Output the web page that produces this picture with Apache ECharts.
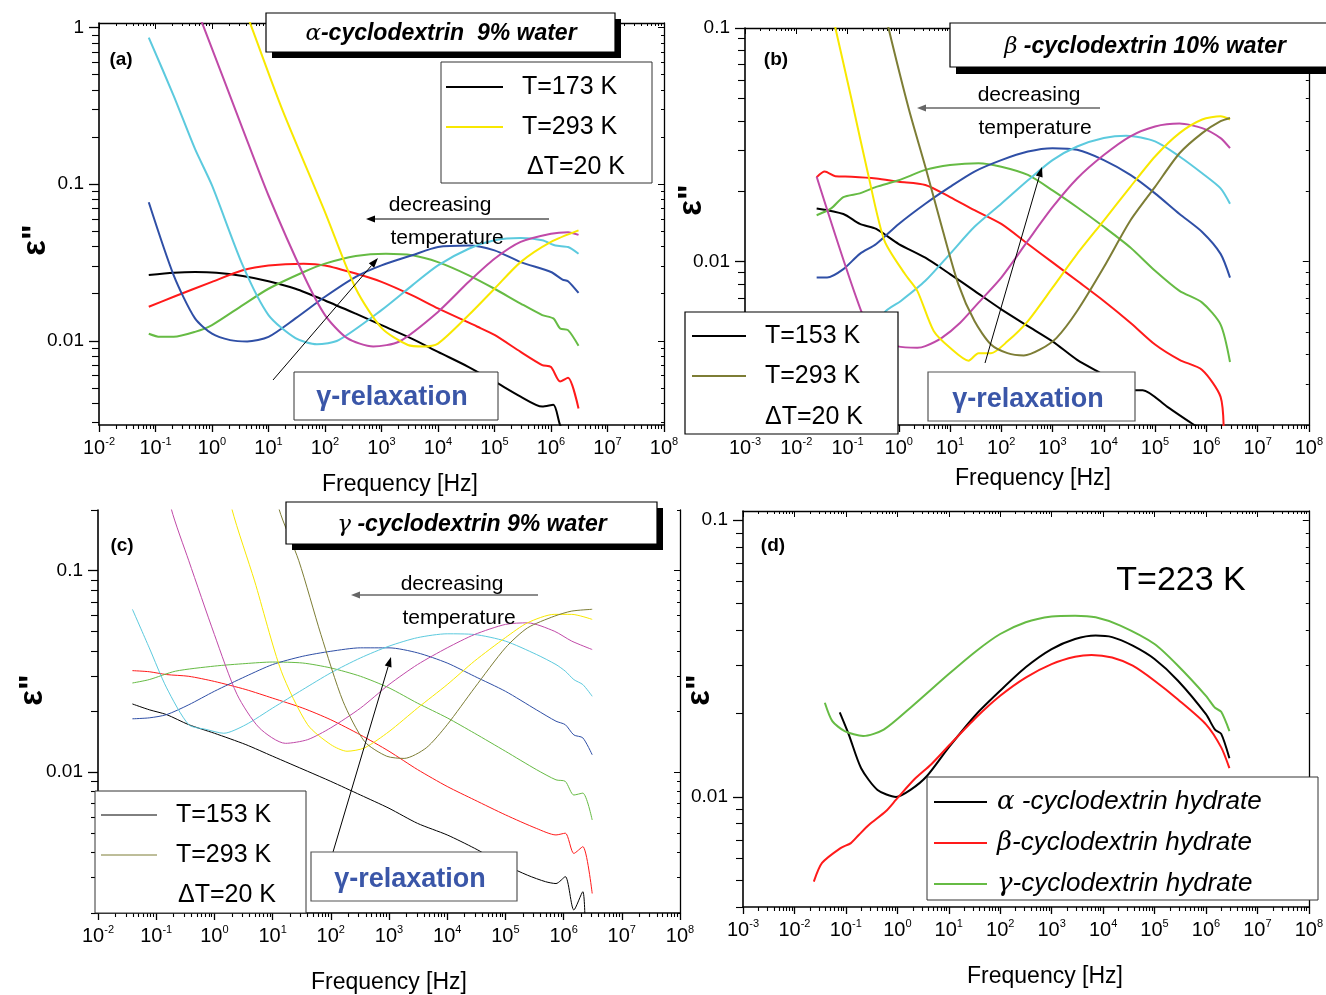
<!DOCTYPE html>
<html>
<head>
<meta charset="utf-8">
<script src="https://cdn.jsdelivr.net/npm/echarts@6/dist/echarts.min.js"></script>
<style>
html, body { margin: 0; padding: 0; background: #fff; }
#chart { width: 1326px; height: 995px; }
</style>
</head>
<body>
<div id="chart"></div>
<script>
// ---- (a) alpha-cyclodextrin 9% water, T = 173..293 K ----
const a173 = [[0.076,0.0263],[0.21,0.0272],[0.5,0.0275],[1.2,0.0272],[3.5,0.0259],[10,0.024],[30,0.0215],[100,0.0181],[350,0.0149],[1000,0.0126],[3500,0.0103],[1e4,0.0085],[3.5e4,0.0068],[1e5,0.0055],[2.9e5,0.0044],[7e5,0.0038],[1.1e6,0.0039],[1.45e6,0.0029],[2e6,0.0024]];
const a193 = [[0.076,0.0165],[0.21,0.0191],[1,0.0238],[3.5,0.0282],[10,0.0303],[42,0.0311],[100,0.0303],[350,0.0269],[1000,0.0238],[3500,0.0195],[1e4,0.0161],[5e4,0.0123],[1e5,0.0109],[2.9e5,0.0085],[7e5,0.007],[1e6,0.0068],[1.45e6,0.0055],[2e6,0.0058],[3.07e6,0.0037]];
const a213 = [[0.076,0.0111],[0.12,0.0106],[0.21,0.0106],[0.5,0.0114],[1,0.0126],[3.5,0.0169],[10,0.0215],[42,0.0275],[100,0.0311],[350,0.0348],[1200,0.036],[3500,0.0352],[1e4,0.0318],[3.5e4,0.0262],[1e5,0.0215],[2.9e5,0.0173],[7e5,0.0146],[1.1e6,0.0139],[1.45e6,0.012],[2e6,0.0117],[3.07e6,0.0093]];
const a233 = [[0.076,0.0767],[0.21,0.0262],[0.5,0.0139],[1,0.0111],[2.1,0.0101],[4.2,0.0099],[10,0.0106],[30,0.0139],[100,0.0191],[350,0.0256],[1000,0.0303],[3500,0.0352],[1e4,0.0397],[3.5e4,0.0406],[1e5,0.0378],[2.9e5,0.0318],[1e6,0.0275],[1.6e6,0.0246],[2e6,0.024],[3.07e6,0.0202]];
const a253 = [[0.076,0.863],[0.21,0.367],[0.5,0.168],[1,0.0982],[3.5,0.0303],[10,0.0146],[30,0.0104],[72,0.0095],[174,0.0101],[1000,0.0157],[3500,0.0226],[1e4,0.0303],[3.5e4,0.0387],[1e5,0.0438],[2.9e5,0.0453],[7e5,0.0438],[1.2e6,0.0406],[2e6,0.0397],[3.07e6,0.036]];
const a273 = [[0.4,1.66],[0.72,1.0],[3.5,0.225],[10,0.0847],[42,0.0262],[100,0.0146],[247,0.0104],[714,0.0092],[2065,0.0099],[1e4,0.0153],[3.5e4,0.0238],[1e5,0.0334],[2.9e5,0.0428],[1e6,0.0483],[2e6,0.0494],[3.07e6,0.0475]];
const a293 = [[2.97,1.67],[5.06,1.0],[17.4,0.302],[100,0.0664],[352,0.0215],[1020,0.012],[2940,0.0094],[5460,0.0092],[1e4,0.0096],[3.5e4,0.0146],[1e5,0.0215],[2.9e5,0.0318],[1e6,0.0428],[3.07e6,0.0507]];

// ---- (b) beta-cyclodextrin 10% water, T = 153..293 K ----
const b153 = [[0.025,0.0169],[0.083,0.016],[0.174,0.0145],[0.363,0.0138],[1,0.0119],[3.3,0.0104],[10,0.00885],[30,0.0075],[100,0.00625],[331,0.0053],[1000,0.00456],[3020,0.0038],[1e4,0.00328],[3.3e4,0.00282],[5.75e4,0.00282],[1.74e5,0.00239],[5.25e5,0.00203],[9.1e5,0.0019]];
const b173 = [[0.025,0.023],[0.036,0.0243],[0.058,0.0232],[0.12,0.0231],[0.363,0.0227],[1,0.022],[3.3,0.0213],[10,0.0189],[30,0.0166],[100,0.0145],[331,0.0119],[1000,0.00993],[3020,0.00828],[1e4,0.00679],[3.3e4,0.00548],[1e5,0.00442],[3e5,0.0038],[8.3e5,0.00344],[1.9e6,0.00264],[2.2e6,0.00178]];
const b193 = [[0.025,0.0158],[0.048,0.0169],[0.083,0.0189],[0.174,0.0196],[0.363,0.0209],[1,0.0223],[3.3,0.0247],[10,0.0259],[36,0.0264],[100,0.0255],[331,0.0235],[1000,0.0202],[3020,0.0171],[1e4,0.0141],[3.3e4,0.0115],[1e5,0.00914],[3e5,0.0075],[8.3e5,0.00668],[1.9e6,0.00538],[2.9e6,0.00372]];
const b213 = [[0.025,0.00855],[0.04,0.00855],[0.083,0.00929],[0.174,0.0108],[0.363,0.0119],[1,0.0145],[3.3,0.0177],[10,0.0209],[30,0.0243],[100,0.0272],[331,0.0296],[1000,0.0306],[3020,0.0301],[1e4,0.0272],[3.3e4,0.0235],[1e5,0.0196],[3e5,0.016],[8.3e5,0.0134],[1.9e6,0.0108],[2.9e6,0.00855]];
const b233 = [[0.025,0.00355],[0.1,0.00316],[0.25,0.00398],[0.525,0.00605],[1.1,0.00679],[3.3,0.00828],[10,0.0108],[30,0.0141],[100,0.0177],[331,0.0223],[1000,0.0272],[3020,0.0311],[1e4,0.0338],[2.75e4,0.0346],[1e5,0.0327],[3e5,0.0282],[8.3e5,0.0239],[1.9e6,0.0206],[2.9e6,0.0177]];
const b253 = [[0.025,0.0231],[0.19,0.00605],[0.4,0.00468],[0.91,0.00435],[2.3,0.00428],[3.3,0.00435],[6.9,0.00472],[15.8,0.00548],[36,0.00668],[100,0.00855],[331,0.0123],[1000,0.0171],[3020,0.0227],[1e4,0.0286],[3.3e4,0.0344],[1e5,0.0379],[3e5,0.039],[8.3e5,0.0373],[1.9e6,0.0338],[2.9e6,0.0306]];
const b273 = [[0.04,0.141],[0.058,0.1],[0.12,0.0494],[0.25,0.0239],[0.525,0.0123],[1.32,0.00885],[2.3,0.0075],[4.8,0.00505],[10,0.00428],[23,0.00377],[36,0.00406],[63,0.00406],[132,0.00456],[331,0.00557],[1000,0.00774],[3020,0.0108],[1e4,0.015],[3.3e4,0.0209],[1e5,0.0282],[3e5,0.0355],[8.3e5,0.0406],[1.9e6,0.0419],[2.9e6,0.0406]];
const b293 = [[0.447,0.141],[0.63,0.1],[1.58,0.0448],[3.3,0.0255],[6.9,0.0141],[14.5,0.00802],[30,0.00557],[63,0.00442],[132,0.00406],[275,0.00397],[575,0.00421],[1200,0.00472],[3020,0.00615],[1e4,0.00946],[3.3e4,0.015],[1e5,0.0209],[3e5,0.0291],[8.3e5,0.0355],[1.9e6,0.0399],[2.9e6,0.0412]];

// ---- (c) gamma-cyclodextrin 9% water, T = 153..293 K ----
const c153 = [[0.039,0.0218],[0.076,0.0204],[0.151,0.0193],[0.363,0.0172],[1,0.0156],[3.47,0.0137],[10,0.012],[40,0.0101],[100,0.009],[324,0.0077],[1000,0.00662],[3090,0.00557],[1e4,0.00488],[2.95e4,0.00419],[1e5,0.00346],[2.4e5,0.00308],[4.9e5,0.00286],[7.4e5,0.0028],[1.07e6,0.00303],[1.5e6,0.00207],[2.14e6,0.00255],[2.34e6,0.00178]];
const c173 = [[0.039,0.0319],[0.076,0.0315],[0.151,0.0305],[0.363,0.0299],[1,0.0282],[3.47,0.0257],[10,0.0233],[33,0.0208],[100,0.0182],[324,0.0153],[1000,0.0127],[3090,0.0103],[1e4,0.00849],[2.95e4,0.00728],[1e5,0.00614],[3.4e5,0.00526],[7.4e5,0.00488],[1.07e6,0.00498],[1.5e6,0.00395],[2.14e6,0.00427],[3.1e6,0.0025]];
const c193 = [[0.039,0.0277],[0.076,0.0288],[0.214,0.0317],[1,0.0336],[3.47,0.0346],[10,0.0352],[33,0.0348],[100,0.0329],[324,0.0299],[1000,0.0262],[3090,0.022],[1e4,0.0186],[2.95e4,0.0156],[1e5,0.0127],[3.4e5,0.0103],[7.4e5,0.00916],[1.07e6,0.009],[1.5e6,0.0077],[2.14e6,0.00787],[3.1e6,0.00579]];
const c213 = [[0.039,0.0184],[0.076,0.0186],[0.151,0.0193],[0.363,0.0216],[1,0.0252],[3.47,0.0299],[10,0.0342],[33,0.0376],[100,0.0398],[324,0.0414],[1000,0.0414],[3090,0.0391],[1e4,0.0348],[2.95e4,0.0299],[1e5,0.0252],[3.4e5,0.0204],[7.4e5,0.0179],[1.07e6,0.0172],[1.5e6,0.0153],[2.14e6,0.0148],[3.1e6,0.0122]];
const c233 = [[0.039,0.0643],[0.076,0.0414],[0.151,0.0262],[0.363,0.0172],[0.72,0.0163],[1.45,0.0156],[3.47,0.0172],[10,0.0208],[33,0.0257],[100,0.0311],[324,0.0369],[1000,0.0422],[3090,0.0465],[1e4,0.0486],[2.95e4,0.0482],[1e5,0.0447],[3.4e5,0.0384],[7.4e5,0.0342],[1.07e6,0.0317],[1.5e6,0.0288],[2.14e6,0.0272],[3.1e6,0.0238]];
const c253 = [[0.126,0.355],[0.182,0.202],[0.363,0.112],[1,0.0482],[2.45,0.0243],[5.9,0.0166],[16.6,0.0139],[40,0.0145],[100,0.0166],[324,0.0208],[1000,0.0272],[3090,0.0342],[1e4,0.0414],[2.95e4,0.0482],[1e5,0.0541],[2.4e5,0.0551],[6.9e5,0.0501],[1.38e6,0.0447],[3.1e6,0.0406]];
const c273 = [[1.41,0.355],[2.0,0.202],[4.9,0.0889],[14.1,0.0317],[40,0.0172],[100,0.0137],[190,0.0127],[380,0.0132],[1000,0.0159],[3090,0.0208],[1e4,0.0272],[2.95e4,0.0356],[1e5,0.0465],[2.4e5,0.0551],[6.9e5,0.0607],[1.38e6,0.0607],[3.1e6,0.0573]];
const c293 = [[8.9,0.355],[12.9,0.202],[28.2,0.112],[67.6,0.0482],[162,0.0225],[380,0.0142],[912,0.012],[1820,0.0117],[4365,0.0132],[1e4,0.0172],[2.95e4,0.0262],[1e5,0.0414],[2.4e5,0.052],[6.9e5,0.0594],[1.38e6,0.063],[3.1e6,0.0643]];

// ---- (d) the three hydrates at T = 223 K ----
const dAlpha = [[0.076,0.0202],[0.114,0.0168],[0.198,0.0127],[0.413,0.0106],[0.946,0.01],[1.8,0.0106],[3.77,0.0119],[10,0.0151],[34.4,0.0199],[100,0.0242],[313,0.0294],[1000,0.0342],[2860,0.0372],[7180,0.0383],[1.5e4,0.0378],[3.77e4,0.0352],[1e5,0.0315],[2.86e5,0.0263],[1e6,0.0199],[1.5e6,0.0175],[1.98e6,0.0169],[2.86e6,0.0138]];
const dBeta = [[0.0238,0.00494],[0.0344,0.00577],[0.0787,0.00653],[0.125,0.00681],[0.18,0.0073],[0.286,0.00794],[0.597,0.00887],[0.946,0.00977],[2.17,0.0116],[4.53,0.0131],[10,0.0153],[34.4,0.0194],[100,0.0232],[313,0.027],[1000,0.0302],[2860,0.0321],[5970,0.0326],[1.5e4,0.0319],[3.77e4,0.0298],[1e5,0.0263],[2.86e5,0.0225],[1e6,0.0183],[1.98e6,0.0151],[2.86e6,0.0127]];
const dGamma = [[0.039,0.0219],[0.0545,0.0188],[0.0946,0.0173],[0.217,0.0166],[0.545,0.0175],[1.8,0.021],[10,0.0278],[34.4,0.0337],[100,0.0388],[313,0.0428],[1000,0.0449],[2860,0.0452],[7180,0.0446],[2.17e4,0.0416],[1e5,0.0357],[2.86e5,0.0298],[1e6,0.0232],[1.5e6,0.021],[1.98e6,0.0203],[2.86e6,0.0173]];

const FONT = '"Liberation Sans", Arial, sans-serif';
const C = {
    black: '#000000', red: '#ff1a1a', green: '#66bb44', blue: '#2f4fa6',
    cyan: '#5ccade', magenta: '#c04aa8', yellow: '#f8e800', olive: '#7d7d35'
};

const panels = [
    { grid: { left: 99, top: 23, width: 565, height: 402 }, xExp: [-2, 8], yRange: [0.0029, 1.07], yExp: [-3, 0], topAxis: true, lw: 2,
      series: [[a173, C.black], [a193, C.red], [a213, C.green], [a233, C.blue], [a253, C.cyan], [a273, C.magenta], [a293, C.yellow]] },
    { grid: { left: 745, top: 28, width: 567, height: 397 }, xExp: [-3, 8], yRange: [0.002, 0.1], yExp: [-3, -1], topAxis: true, lw: 2,
      series: [[b153, C.black], [b173, C.red], [b193, C.green], [b213, C.blue], [b233, C.cyan], [b253, C.magenta], [b273, C.yellow], [b293, C.olive]] },
    { grid: { left: 98, top: 510, width: 582, height: 403 }, xExp: [-2, 8], yRange: [0.002, 0.2], yExp: [-3, -1], topAxis: false, lw: 1,
      series: [[c153, C.black], [c173, C.red], [c193, C.green], [c213, C.blue], [c233, C.cyan], [c253, C.magenta], [c273, C.yellow], [c293, C.olive]] },
    { grid: { left: 743, top: 511, width: 566, height: 396 }, xExp: [-3, 8], yRange: [0.004, 0.108], yExp: [-3, -1], topAxis: true, lw: 2,
      series: [[dAlpha, C.black], [dBeta, C.red], [dGamma, C.green]] }
];

function decades(lo, hi) {
    const v = [];
    for (let e = lo; e <= hi; e++) v.push(Math.pow(10, e));
    return v;
}
function minors(lo, hi) {
    const v = [];
    for (let e = lo; e < hi; e++) {
        for (let k = 2; k <= 9; k++) v.push(+(k * Math.pow(10, e)).toPrecision(3));
    }
    return v;
}

const grids = [], xAxes = [], yAxes = [], series = [];

panels.forEach((p, gi) => {
    grids.push(Object.assign({ containLabel: false }, p.grid));
    const xMin = Math.pow(10, p.xExp[0]), xMax = Math.pow(10, p.xExp[1]);
    const xMaj = decades(p.xExp[0], p.xExp[1]), xMinor = minors(p.xExp[0], p.xExp[1]);
    const yMaj = decades(p.yExp[0], p.yExp[1] + 1), yMinor = minors(p.yExp[0], p.yExp[1] + 1);

    const ax = (range, extra) => Object.assign({
        type: 'log', logBase: 10, gridIndex: gi, min: range[0], max: range[1],
        splitLine: { show: false }, minorTick: { show: false },
        axisLine: { show: false, onZero: false },
        axisTick: { show: false }, axisLabel: { show: false }
    }, extra);
    const tick = (vals, len, inside, w) => ({ show: true, customValues: vals, length: len, inside: inside, lineStyle: { color: '#000', width: w } });

    // bottom axis, labelled
    const xMainIndex = xAxes.length;
    xAxes.push(ax([xMin, xMax], {
        position: 'bottom',
        axisLine: { show: true, onZero: false, lineStyle: { color: '#000', width: 1.6 } },
        axisTick: tick(xMaj, 7, false, 1.3),
        axisLabel: {
            show: true, customValues: xMaj, margin: 11, color: '#000',
            formatter: v => '{b|10}{s|' + Math.round(Math.log10(v)) + '}',
            rich: {
                b: { fontSize: 20, fontFamily: FONT, lineHeight: 22, verticalAlign: 'bottom', color: '#000' },
                s: { fontSize: 11, fontFamily: FONT, lineHeight: 12, verticalAlign: 'top', color: '#000' }
            }
        }
    }));
    xAxes.push(ax([xMin, xMax], { position: 'bottom', axisTick: tick(xMinor, 4, false, 1.1) }));
    if (p.topAxis) {
        xAxes.push(ax([xMin, xMax], { position: 'top', axisLine: { show: true, onZero: false, lineStyle: { color: '#000', width: 1.3 } }, axisTick: tick(xMaj, 6, true, 1) }));
        xAxes.push(ax([xMin, xMax], { position: 'top', axisTick: tick(xMinor, 3, true, 1) }));
    }

    const yMainIndex = yAxes.length;
    yAxes.push(ax(p.yRange, {
        position: 'left',
        axisLine: { show: true, onZero: false, lineStyle: { color: '#000', width: 1.6 } },
        axisTick: tick(yMaj, 10, false, 1.3),
        axisLabel: {
            show: true, customValues: yMaj, margin: 15, color: '#000', fontSize: 19, fontFamily: FONT,
            formatter: v => (v >= 1 ? '1' : String(+v.toPrecision(1)))
        }
    }));
    yAxes.push(ax(p.yRange, { position: 'left', axisTick: tick(yMinor, 7, false, 1.1) }));
    yAxes.push(ax(p.yRange, { position: 'right', axisLine: { show: true, onZero: false, lineStyle: { color: '#000', width: 1.3 } }, axisTick: tick(yMaj, 6, true, 1) }));
    yAxes.push(ax(p.yRange, { position: 'right', axisTick: tick(yMinor, 3, true, 1) }));

    p.series.forEach(s => {
        series.push({
            type: 'line', xAxisIndex: xMainIndex, yAxisIndex: yMainIndex,
            data: s[0], showSymbol: false, symbol: 'none',
            smooth: 0.25, clip: true, silent: true,
            lineStyle: { color: s[1], width: p.lw }, itemStyle: { color: s[1] }
        });
    });
});

// ---- annotations ----
const Z = 100;
function txt(x, y, text, font, fill, align) {
    return { type: 'text', z: Z, x: x, y: y, style: { text: text, font: font, fill: fill || '#000', align: align || 'center', verticalAlign: 'middle' } };
}
function richTxt(x, y, text, rich) {
    return { type: 'text', z: Z, x: x, y: y, style: { text: text, rich: rich, align: 'center', verticalAlign: 'middle' } };
}
function box(x1, y1, x2, y2, stroke, lw) {
    return { type: 'rect', z: Z, shape: { x: x1, y: y1, width: x2 - x1, height: y2 - y1 }, style: { fill: '#fff', stroke: stroke || '#000', lineWidth: lw || 1 } };
}
function shadow(x1, y1, x2, y2) {
    return { type: 'rect', z: Z, shape: { x: x1, y: y1, width: x2 - x1, height: y2 - y1 }, style: { fill: '#000' } };
}
function seg(x1, y1, x2, y2, color, w) {
    return { type: 'line', z: Z, shape: { x1: x1, y1: y1, x2: x2, y2: y2 }, style: { stroke: color, lineWidth: w } };
}
function arrow(x1, y1, x2, y2, color, w, hl, hw) {
    const a = Math.atan2(y2 - y1, x2 - x1);
    const bx = x2 - hl * Math.cos(a), by = y2 - hl * Math.sin(a);
    const px = -Math.sin(a) * hw, py = Math.cos(a) * hw;
    return [
        seg(x1, y1, bx, by, color, w),
        { type: 'polygon', z: Z, shape: { points: [[x2, y2], [bx + px, by + py], [bx - px, by - py]] }, style: { fill: color } }
    ];
}
const titleRich = {
    g: { fontFamily: '"DejaVu Serif", serif', fontStyle: 'italic', fontSize: 23, fill: '#000' },
    t: { fontFamily: FONT, fontStyle: 'italic', fontWeight: 'bold', fontSize: 23, fill: '#000' }
};
const legendFont = '25px ' + FONT;
const smallFont = '21px ' + FONT;
const relaxFont = 'bold 27px ' + FONT;
const RELAX = '#3a56a8';
const epsFont = 'bold 33px ' + FONT;
const freqFont = '23px ' + FONT;
const tagFont = 'bold 19px ' + FONT;

function epsLabel(x, y) {
    return { type: 'text', z: Z, x: x, y: y, rotation: Math.PI / 2, style: { text: 'ε"', font: epsFont, fill: '#000', align: 'center', verticalAlign: 'middle' } };
}
function legRich() {
    return {
        g: { fontFamily: '"DejaVu Serif", serif', fontStyle: 'italic', fontSize: 26, fill: '#000' },
        t: { fontFamily: FONT, fontStyle: 'italic', fontSize: 26, fill: '#000' }
    };
}

const graphics = [].concat(
    // panel (a)
    shadow(272, 19, 621, 58), box(266, 13, 615, 52, '#000', 1.2),
    richTxt(441, 34, '{g|α}{t|-cyclodextrin  9% water}', titleRich),
    txt(121, 60, '(a)', tagFont),
    box(441, 62, 652, 183, '#333', 1),
    seg(446, 87, 503, 87, C.black, 2), txt(522, 87, 'T=173 K', legendFont, '#000', 'left'),
    seg(446, 127, 503, 127, C.yellow, 2), txt(522, 127, 'T=293 K', legendFont, '#000', 'left'),
    txt(527, 167, 'ΔT=20 K', legendFont, '#000', 'left'),
    txt(440, 205, 'decreasing', smallFont),
    arrow(549, 219, 366, 219, '#000', 1, 9, 3.5),
    txt(447, 238, 'temperature', smallFont),
    arrow(273, 380, 378, 258, '#000', 1, 10, 3.5),
    box(294, 372, 498, 420, '#333', 1), txt(392, 398, 'γ-relaxation', relaxFont, RELAX),
    epsLabel(36, 240), txt(400, 485, 'Frequency [Hz]', freqFont),

    // panel (b)
    shadow(956, 29, 1340, 74), box(950, 23, 1332, 67, '#000', 1.2),
    richTxt(1145, 47, '{g|β}{t| -cyclodextrin 10% water}', titleRich),
    txt(776, 60, '(b)', tagFont),
    txt(1029, 95, 'decreasing', smallFont),
    arrow(1100, 108, 917, 108, '#666', 1.5, 9, 3.5),
    txt(1035, 128, 'temperature', smallFont),
    arrow(985, 363, 1042, 167, '#000', 1, 10, 3.5),
    box(685, 312, 898, 434, '#000', 1.2),
    seg(692, 336, 746, 336, C.black, 2), txt(765, 336, 'T=153 K', legendFont, '#000', 'left'),
    seg(692, 376, 746, 376, C.olive, 2), txt(765, 376, 'T=293 K', legendFont, '#000', 'left'),
    txt(765, 417, 'ΔT=20 K', legendFont, '#000', 'left'),
    box(928, 372, 1135, 421, '#555', 1.2), txt(1028, 400, 'γ-relaxation', relaxFont, RELAX),
    epsLabel(692, 200), txt(1033, 479, 'Frequency [Hz]', freqFont),

    // panel (c)
    shadow(292, 508, 663, 550), box(286, 502, 657, 544, '#000', 1.2),
    richTxt(472, 525, '{g|γ}{t| -cyclodextrin 9% water}', titleRich),
    txt(122, 546, '(c)', tagFont),
    txt(452, 584, 'decreasing', smallFont),
    arrow(538, 595, 351, 595, '#666', 1.5, 9, 3.5),
    txt(459, 618, 'temperature', smallFont),
    arrow(333, 852, 391, 657, '#000', 1, 10, 3.5),
    box(95, 791, 306, 913, '#333', 1),
    seg(101, 815, 157, 815, C.black, 1), txt(176, 815, 'T=153 K', legendFont, '#000', 'left'),
    seg(101, 855, 157, 855, C.olive, 1), txt(176, 855, 'T=293 K', legendFont, '#000', 'left'),
    txt(178, 895, 'ΔT=20 K', legendFont, '#000', 'left'),
    box(311, 852, 517, 901, '#555', 1.2), txt(410, 880, 'γ-relaxation', relaxFont, RELAX),
    epsLabel(33, 690), txt(389, 983, 'Frequency [Hz]', freqFont),

    // panel (d)
    txt(773, 546, '(d)', tagFont),
    txt(1181, 581, 'T=223 K', '34px ' + FONT),
    box(927, 777, 1318, 900, '#333', 1),
    seg(934, 802, 987, 802, C.black, 2),
    seg(934, 843, 987, 843, C.red, 2),
    seg(934, 884, 987, 884, C.green, 2),
    { type: 'text', z: Z, x: 997, y: 802, style: { text: '{g|α}{t| -cyclodextrin hydrate}', rich: legRich(), align: 'left', verticalAlign: 'middle' } },
    { type: 'text', z: Z, x: 997, y: 843, style: { text: '{g|β}{t|-cyclodextrin hydrate}', rich: legRich(), align: 'left', verticalAlign: 'middle' } },
    { type: 'text', z: Z, x: 997, y: 884, style: { text: '{g|γ}{t|-cyclodextrin hydrate}', rich: legRich(), align: 'left', verticalAlign: 'middle' } },
    epsLabel(700, 690), txt(1045, 977, 'Frequency [Hz]', freqFont)
);

const chart = echarts.init(document.getElementById('chart'), null, { renderer: 'canvas' });
chart.setOption({
    backgroundColor: '#fff',
    animation: false,
    grid: grids,
    xAxis: xAxes,
    yAxis: yAxes,
    series: series,
    graphic: { elements: graphics }
});
</script>
</body>
</html>
